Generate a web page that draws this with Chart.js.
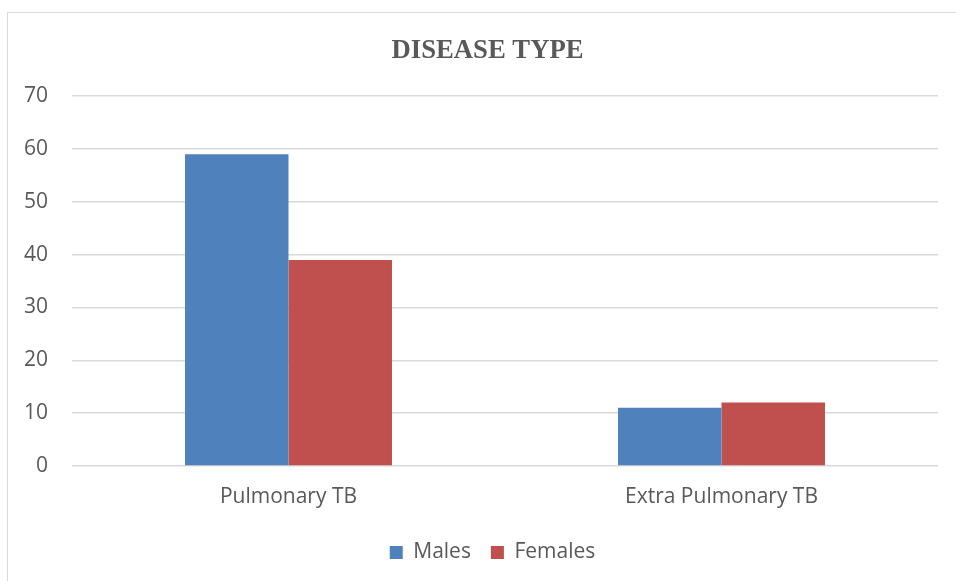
<!DOCTYPE html>
<html>
<head>
<meta charset="utf-8">
<script src="https://cdn.jsdelivr.net/npm/chart.js@4.4.0/dist/chart.umd.min.js"></script>
<style>
  html, body { margin: 0; padding: 0; background: #fff; overflow: hidden; }
  #frame { position: absolute; left: 7px; top: 12px; width: 1200px; height: 800px; border: 1px solid #d9d9d9; }
  #wrap { position: absolute; left: 0; top: 0; width: 956px; height: 581px; }
</style>
</head>
<body>
<div id="frame"></div>
<div id="wrap"><canvas id="myChart"></canvas></div>
<script>
const categories = ["Pulmonary TB", "Extra Pulmonary TB"];
const males = [59, 11];
const females = [39, 12];
const yTicks = { min: 0, max: 70, step: 10 };

let textColor = "#595959";
let gridColor = "#d9d9d9";

// title and legend sit a bit right of the plot centre in the original
let shiftBoxes = {
  id: "shiftBoxes",
  afterLayout: (chart) => {
    if (chart.titleBlock) {
      chart.titleBlock.left += 18.5;
      chart.titleBlock.right += 18.5;
    }
    if (chart.legend) {
      chart.legend.left += 23.5;
      chart.legend.right += 23.5;
    }
  },
};

const data = {
  labels: categories,
  datasets: [
    {
      label: "Males",
      backgroundColor: "#4f81bd",
      data: males,
      categoryPercentage: 0.478,
      barPercentage: 1,
    },
    {
      label: "Females",
      backgroundColor: "#c0504d",
      data: females,
      categoryPercentage: 0.478,
      barPercentage: 1,
    },
  ],
};

const config = {
  type: "bar",
  data: data,
  plugins: [shiftBoxes],
  options: {
    responsive: false,
    animation: false,
    layout: { padding: { top: 35, right: 18, bottom: 8, left: 0 } },
    plugins: {
      title: {
        display: true,
        text: "DISEASE TYPE",
        color: textColor,
        font: { family: "Liberation Serif", size: 26.7, weight: "bold" },
        padding: { top: 0, bottom: 29 },
      },
      legend: {
        position: "bottom",
        labels: {
          color: textColor,
          font: { family: "Open Sans", size: 21 },
          boxWidth: 13,
          boxHeight: 13,
          padding: 20,
        },
      },
      tooltip: { enabled: false },
    },
    scales: {
      x: {
        grid: { display: false, drawTicks: false },
        border: { display: false },
        ticks: { color: textColor, font: { family: "Open Sans", size: 21 }, padding: 18 },
        afterFit: (scale) => { scale.height = 56; },
      },
      y: {
        min: yTicks.min,
        max: yTicks.max,
        grid: { color: gridColor, lineWidth: 1.5, drawTicks: false },
        border: { display: false },
        ticks: {
          stepSize: yTicks.step,
          color: textColor,
          font: { family: "Open Sans", size: 21 },
          padding: 24,
        },
        afterFit: (scale) => { scale.width = 72; },
      },
    },
  },
};

let canvas = document.getElementById("myChart");
canvas.width = 956;
canvas.height = 581;
const myChart = new Chart(canvas, config);
</script>
</body>
</html>
